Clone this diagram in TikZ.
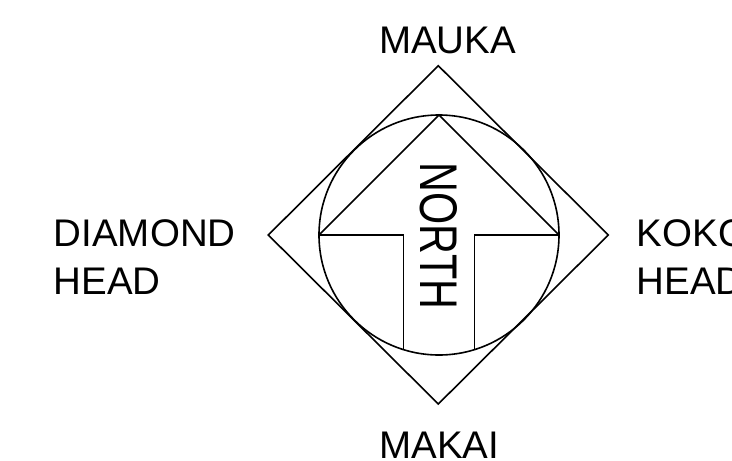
\documentclass[tikz,border=0pt]{standalone}
\usepackage{fontspec}
\setmainfont{Liberation Sans}
\begin{document}
\begin{tikzpicture}[x=1pt,y=-1pt,line width=1.6pt,line join=miter,
  lbl/.style={inner sep=0pt,font=\fontsize{38.5}{48}\selectfont},
  northlbl/.style={inner sep=0pt,rotate=-90,font=\fontsize{53}{60}\selectfont}]
\useasboundingbox (0,0) rectangle (732,461);
% outer diamond
\draw (438.3,65.7) -- (608.3,235) -- (438.3,404) -- (268.3,235) -- cycle;
% circle
\draw (439,235) circle[radius=120];
% arrow
\coordinate (tip) at (439,115);
\coordinate (ls) at (319,235);
\coordinate (rs) at (559,235);
\draw (ls) -- (tip) -- (rs);
\draw (ls) -- (403.5,235) -- (403.5,349.6);
\draw (rs) -- (474.5,235) -- (474.5,349.6);
\node[northlbl] (north) at (439,236) {\scalebox{0.78}[1]{NORTH}};
\node[lbl,anchor=base] (mauka) at (447.5,53) {MAUKA};
\node[lbl,anchor=base] (makai) at (439.4,458) {MAKAI};
\node[lbl,anchor=north west,align=left] (dh) at (53,219) {DIAMOND\\HEAD};
\node[lbl,anchor=north west,align=left] (kh) at (636,219) {KOKO\\HEAD};
\end{tikzpicture}
\end{document}
